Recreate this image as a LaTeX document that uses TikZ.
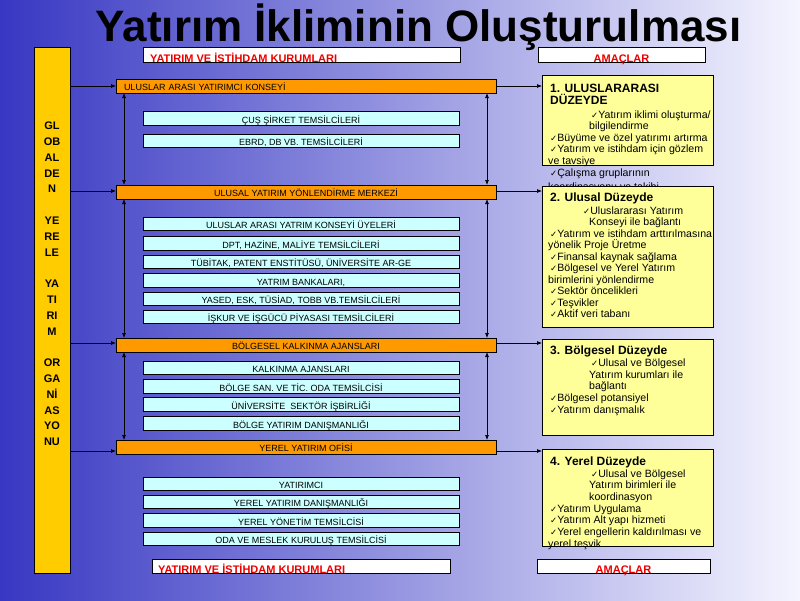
\documentclass[tikz,border=0pt]{standalone}
\usepackage{fontspec}
\setmainfont{Liberation Sans}
\newfontfamily\dejavu{DejaVu Sans}
\usetikzlibrary{arrows.meta}
\definecolor{bgleft}{RGB}{55,55,195}
\definecolor{bgright}{RGB}{245,245,255}
\definecolor{colyellow}{RGB}{255,204,0}
\definecolor{barorange}{RGB}{255,153,0}
\definecolor{cyanfill}{RGB}{204,255,255}
\definecolor{boxyellow}{RGB}{255,255,153}
\definecolor{hdrred}{RGB}{235,0,0}
\newcommand\ck{{\dejavu\fontsize{8.5}{8.5}\selectfont ✓}}
\begin{document}
\begin{tikzpicture}[x=1pt,y=-1pt,
  colbox/.style={draw=black, fill=colyellow, line width=0.8pt, inner sep=0pt, outer sep=0pt, minimum width=36pt, minimum height=526pt},
  hdrbox/.style={draw=black, fill=white, line width=0.8pt, inner sep=0pt, outer sep=0pt, minimum height=15pt},
  hdrtext/.style={inner sep=0pt, text=hdrred, font=\bfseries\fontsize{11}{11}\selectfont},
  barbox/.style={draw=black, fill=barorange, line width=0.8pt, inner sep=0pt, outer sep=0pt, minimum width=380pt, minimum height=14pt, text height=9pt, text depth=0pt, font=\fontsize{9}{9}\selectfont},
  cbox/.style={draw=black, fill=cyanfill, line width=0.8pt, inner sep=0pt, outer sep=0pt, minimum width=316pt, minimum height=13.5pt, text height=9pt, text depth=0pt, font=\fontsize{9}{9}\selectfont},
  ybox/.style={draw=black, fill=boxyellow, line width=0.8pt, inner sep=0pt, outer sep=0pt, minimum width=171pt},
  yhead/.style={anchor=base west, inner sep=0pt, font=\bfseries\fontsize{12}{12}\selectfont},
  ytext/.style={anchor=base west, inner sep=0pt, font=\fontsize{10.6}{10.6}\selectfont},
  arr/.style={-{Latex[length=5pt,width=4pt]}, line width=0.7pt},
  darr/.style={{Latex[length=5pt,width=4pt]}-{Latex[length=5pt,width=4pt]}, line width=0.7pt}]
\useasboundingbox (0,0) rectangle (800,600);
\shade[left color=bgleft, right color=bgright] (0,0) rectangle (800,600);

% title
\node[anchor=base, inner sep=0pt, font=\bfseries\fontsize{44}{48}\selectfont] (title) at (418.5,41) {Yatırım İkliminin Oluşturulması};

% left column
\node[colbox] (col) at (52,310) {};
\node[inner sep=0pt, align=center, font=\bfseries\fontsize{11}{15.8}\selectfont] (coltext) at (52,284)
 {GL\\OB\\AL\\DE\\N\\[15.8pt]YE\\RE\\LE\\[15.8pt]YA\\TI\\RI\\M\\[15.8pt]OR\\GA\\Nİ\\AS\\YO\\NU};

% header boxes
\node[hdrbox, minimum width=317pt] (hl) at (301.5,54.5) {};
\node[hdrtext, anchor=base west] (hlt) at (150,62) {YATIRIM VE İSTİHDAM KURUMLARI};
\node[hdrbox, minimum width=167pt] (hr) at (621.5,54.5) {};
\node[hdrtext, anchor=base] (hrt) at (621.5,62) {AMAÇLAR};
\node[hdrbox, minimum width=298pt, minimum height=14pt] (fl) at (301,566) {};
\node[hdrtext, anchor=base west] (flt) at (158,573.5) {YATIRIM VE İSTİHDAM KURUMLARI};
\node[hdrbox, minimum width=173pt, minimum height=14pt] (fr) at (623.5,566) {};
\node[hdrtext, anchor=base] (frt) at (623.5,573.5) {AMAÇLAR};

% orange bars
\node[barbox, text width=364pt, align=left] (b1) at (306,86) {ULUSLAR ARASI YATIRIMCI KONSEYİ};
\node[barbox] (b2) at (306,192) {ULUSAL YATIRIM YÖNLENDİRME MERKEZİ};
\node[barbox] (b3) at (306,345) {BÖLGESEL KALKINMA AJANSLARI};
\node[barbox] (b4) at (306,447) {YEREL YATIRIM OFİSİ};

% cyan boxes
\node[cbox] (c1) at (301,118.5) {ÇUŞ ŞİRKET TEMSİLCİLERİ};
\node[cbox] (c2) at (301,141) {EBRD, DB VB. TEMSİLCİLERİ};
\node[cbox] (c3) at (301,224) {ULUSLAR ARASI YATRIM KONSEYİ ÜYELERİ};
\node[cbox] (c4) at (301,243.5) {DPT, HAZİNE, MALİYE TEMSİLCİLERİ};
\node[cbox] (c5) at (301,262) {TÜBİTAK, PATENT ENSTİTÜSÜ, ÜNİVERSİTE AR-GE};
\node[cbox] (c6) at (301,280.5) {YATRIM BANKALARI,};
\node[cbox] (c7) at (301,299) {YASED, ESK, TÜSİAD, TOBB VB.TEMSİLCİLERİ};
\node[cbox] (c8) at (301,317) {İŞKUR VE İŞGÜCÜ PİYASASI TEMSİLCİLERİ};
\node[cbox] (c9) at (301,368) {KALKINMA AJANSLARI};
\node[cbox] (c10) at (301,386.5) {BÖLGE SAN. VE TİC. ODA TEMSİLCİSİ};
\node[cbox] (c11) at (301,404.5) {ÜNİVERSİTE\ \ SEKTÖR İŞBİRLİĞİ};
\node[cbox] (c12) at (301,423.5) {BÖLGE YATIRIM DANIŞMANLIĞI};
\node[cbox] (c13) at (301,484) {YATIRIMCI};
\node[cbox] (c14) at (301,502) {YEREL YATIRIM DANIŞMANLIĞI};
\node[cbox] (c15) at (301,520.5) {YEREL YÖNETİM TEMSİLCİSİ};
\node[cbox] (c16) at (301,539) {ODA VE MESLEK KURULUŞ TEMSİLCİSİ};

% right yellow boxes and texts
\node[ybox, minimum height=90pt] (y1) at (627.5,120) {};
\node[yhead] (y1h1) at (550,92) {1. ULUSLARARASI};
\node[yhead] (y1h2) at (550,104) {DÜZEYDE};
\node[ytext] (y1a) at (591,118) {\ck Yatırım iklimi oluşturma/};
\node[ytext] (y1b) at (589,129.5) {bilgilendirme};
\node[ytext] (y1c) at (550,141) {\ck Büyüme ve özel yatırımı artırma};
\node[ytext] (y1d) at (550,152.5) {\ck Yatırım ve istihdam için gözlem};
\node[ytext] (y1e) at (548,164.5) {ve tavsiye};
\node[ytext] (y1f) at (550,176) {\ck Çalışma gruplarının};
\node[ytext] (y1g) at (548,190) {koordinasyonu ve takibi};

\node[ybox, minimum height=141pt] (y2) at (627.5,256.5) {};
\node[yhead] (y2h) at (550,201) {2. Ulusal Düzeyde};
\node[ytext] (y2a) at (583,214) {\ck Uluslararası Yatırım};
\node[ytext] (y2b) at (589,225.5) {Konseyi ile bağlantı};
\node[ytext] (y2c) at (550,237) {\ck Yatırım ve istihdam arttırılmasına};
\node[ytext] (y2d) at (548,248.5) {yönelik Proje Üretme};
\node[ytext] (y2e) at (550,260) {\ck Finansal kaynak sağlama};
\node[ytext] (y2f) at (550,271.5) {\ck Bölgesel ve Yerel Yatırım};
\node[ytext] (y2g) at (548,283) {birimlerini yönlendirme};
\node[ytext] (y2h2) at (550,294.5) {\ck Sektör öncelikleri};
\node[ytext] (y2i) at (550,306) {\ck Teşvikler};
\node[ytext] (y2j) at (550,317.5) {\ck Aktif veri tabanı};

\node[ybox, minimum height=96pt] (y3) at (627.5,387) {};
\node[yhead] (y3h) at (550,354) {3. Bölgesel Düzeyde};
\node[ytext] (y3a) at (591,366.5) {\ck Ulusal ve Bölgesel};
\node[ytext] (y3b) at (589,378) {Yatırım kurumları ile};
\node[ytext] (y3c) at (589,389.5) {bağlantı};
\node[ytext] (y3d) at (550,401.5) {\ck Bölgesel potansiyel};
\node[ytext] (y3e) at (550,413) {\ck Yatırım danışmalık};

\node[ybox, minimum height=97pt] (y4) at (627.5,497.5) {};
\node[yhead] (y4h) at (550,465) {4. Yerel Düzeyde};
\node[ytext] (y4a) at (591,477) {\ck Ulusal ve Bölgesel};
\node[ytext] (y4b) at (589,488.5) {Yatırım birimleri ile};
\node[ytext] (y4c) at (589,500) {koordinasyon};
\node[ytext] (y4d) at (550,512) {\ck Yatırım Uygulama};
\node[ytext] (y4e) at (550,523.5) {\ck Yatırım Alt yapı hizmeti};
\node[ytext] (y4f) at (550,535) {\ck Yerel engellerin kaldırılması ve};
\node[ytext] (y4g) at (548,547) {yerel teşvik};

% arrows: column -> bars -> goal boxes
\coordinate (r1) at (0,86);
\coordinate (r2) at (0,191);
\coordinate (r3) at (0,343);
\coordinate (r4) at (0,451);
\foreach \i in {1,2,3,4} {
  \draw[arr] (col.east |- r\i) -- (b\i.west |- r\i);
  \draw[arr] (b\i.east |- r\i) -- (y\i.west |- r\i);
}
% vertical double arrows between bars
\coordinate (vl) at (124,0);
\coordinate (vr) at (487,0);
\foreach \a/\b in {1/2,2/3,3/4} {
  \draw[darr] (b\a.south -| vl) -- (b\b.north -| vl);
  \draw[darr] (b\a.south -| vr) -- (b\b.north -| vr);
}
\end{tikzpicture}
\end{document}
